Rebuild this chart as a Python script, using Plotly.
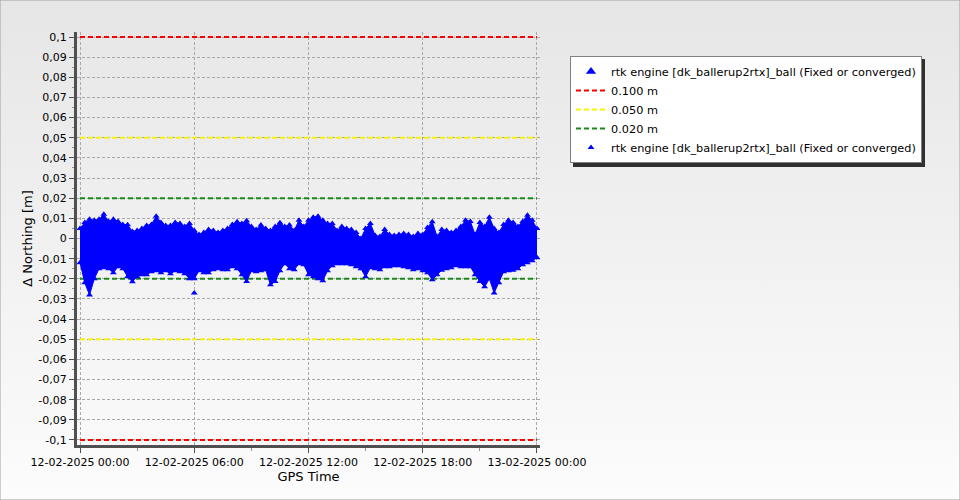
import base64

import pandas as pd
import plotly.graph_objects as go

# Northing deviation, envelope of the dense point cloud, one value every 15 min
START = "2025-02-12 00:00"
STEP = "15min"
upper = [
    0.005, 0.008, 0.0095, 0.009, 0.0095, 0.012, 0.0085, 0.0095, 0.0085, 0.007, 0.0068, 0.0035,
    0.004, 0.005, 0.0065, 0.007, 0.011, 0.008, 0.0065, 0.0065, 0.008, 0.0075, 0.006, 0.0075,
    0.004, 0.002, 0.003, 0.0045, 0.004, 0.003, 0.004, 0.005, 0.007, 0.0083, 0.0075, 0.0088,
    0.006, 0.0045, 0.0067, 0.005, 0.004, 0.006, 0.0078, 0.006, 0.0067, 0.004, 0.009, 0.006,
    0.009, 0.0105, 0.011, 0.009, 0.0075, 0.0075, 0.004, 0.006, 0.005, 0.0045, 0.003, 0.0,
    0.005, 0.0075, 0.0015, 0.001, 0.0045, 0.002, 0.0015, 0.002, 0.0025, 0.002, 0.001, 0.0025,
    0.002, 0.0055, 0.0083, 0.001, 0.0045, 0.004, 0.003, 0.004, 0.006, 0.009, 0.0085, 0.002,
    0.008, 0.006, 0.0105, 0.005, 0.003, 0.007, 0.009, 0.008, 0.006, 0.0085, 0.0115, 0.009,
    0.005,
]
lower = [
    -0.012, -0.022, -0.028, -0.020, -0.015, -0.0145, -0.015, -0.017, -0.014, -0.015, -0.019, -0.0215,
    -0.019, -0.018, -0.018, -0.0165, -0.016, -0.017, -0.016, -0.0175, -0.016, -0.0165, -0.0175, -0.020,
    -0.020, -0.016, -0.017, -0.017, -0.0155, -0.015, -0.0155, -0.0155, -0.014, -0.015, -0.018, -0.0214,
    -0.016, -0.0165, -0.016, -0.0155, -0.023, -0.0214, -0.016, -0.0125, -0.015, -0.0155, -0.0125, -0.013,
    -0.018, -0.019, -0.020, -0.021, -0.016, -0.0135, -0.0125, -0.0125, -0.0125, -0.013, -0.014, -0.015,
    -0.019, -0.0145, -0.015, -0.0155, -0.014, -0.014, -0.0135, -0.0135, -0.014, -0.0145, -0.0155, -0.015,
    -0.016, -0.017, -0.0205, -0.018, -0.0157, -0.015, -0.0145, -0.0135, -0.014, -0.014, -0.014, -0.018,
    -0.0214, -0.024, -0.020, -0.027, -0.022, -0.0165, -0.016, -0.0157, -0.015, -0.013, -0.012, -0.011,
    -0.0095,
]
outlier_times = ["2025-02-12 06:00"]
outlier_values = [-0.027]

SERIES_NAME = "rtk engine [dk_ballerup2rtx]_ball (Fixed or converged)"
limit_names = ["0.100 m", "0.050 m", "0.020 m"]
limit_values = [0.1, 0.05, 0.02]
limit_span = ["2025-02-12 00:00", "2025-02-13 00:00"]

y_ticks = [0.1, 0.09, 0.08, 0.07, 0.06, 0.05, 0.04, 0.03, 0.02, 0.01, 0,
           -0.01, -0.02, -0.03, -0.04, -0.05, -0.06, -0.07, -0.08, -0.09, -0.1]
y_tick_text = ["0,1", "0,09", "0,08", "0,07", "0,06", "0,05", "0,04", "0,03", "0,02", "0,01", "0",
               "-0,01", "-0,02", "-0,03", "-0,04", "-0,05", "-0,06", "-0,07", "-0,08", "-0,09", "-0,1"]

BLUE = "#0000ff"
LIMIT_COLORS = ["#ff0000", "#f5f500", "#1a8a1a"]
GRID = "#a8a8a8"
AXIS = "#505050"
FONT = "DejaVu Sans"

W, H = 960, 500
PLOT = dict(l=77, r=540, t=32, b=445)  # plot area in pixels
LEG = dict(l=570, t=56, r=922, b=164)  # legend box in pixels (for its drop shadow)

t = pd.date_range(START, periods=len(upper), freq=STEP)

fig = go.Figure()

# limit lines (drawn first, the point cloud sits on top)
for name, val, col in zip(limit_names, limit_values, LIMIT_COLORS):
    fig.add_trace(go.Scatter(
        x=[limit_span[0], limit_span[1], None, limit_span[0], limit_span[1]],
        y=[val, val, None, -val, -val],
        mode="lines", name=name, legendrank=2,
        line=dict(color=col, width=2, dash="5px,3px"),
        hoverinfo="skip",
    ))

# the point cloud: band between envelopes + triangle markers on both edges
fig.add_trace(go.Scatter(x=t, y=lower, mode="lines+markers", showlegend=False,
                         line=dict(color=BLUE, width=1),
                         marker=dict(symbol="triangle-up", size=6, color=BLUE)))
fig.add_trace(go.Scatter(x=t, y=upper, mode="lines+markers", showlegend=False,
                         fill="tonexty", fillcolor=BLUE,
                         line=dict(color=BLUE, width=1),
                         marker=dict(symbol="triangle-up", size=6, color=BLUE)))
fig.add_trace(go.Scatter(x=outlier_times, y=outlier_values, mode="markers", showlegend=False,
                         marker=dict(symbol="triangle-up", size=6, color=BLUE)))

# legend entries for the series
fig.add_trace(go.Scatter(x=[None], y=[None], mode="markers", name=SERIES_NAME, legendrank=1,
                         marker=dict(symbol="triangle-up", size=9, color=BLUE)))
fig.add_trace(go.Scatter(x=[None], y=[None], mode="markers", name=SERIES_NAME, legendrank=3,
                         marker=dict(symbol="triangle-up", size=6, color=BLUE)))

svg = (
    f"<svg xmlns='http://www.w3.org/2000/svg' width='{W}' height='{H}' preserveAspectRatio='none'>"
    "<defs><linearGradient id='g' x1='0' y1='0' x2='0' y2='1'>"
    "<stop offset='0' stop-color='#e6e6e6'/><stop offset='1' stop-color='#fcfcfc'/>"
    "</linearGradient></defs>"
    f"<rect width='{W}' height='{H}' fill='url(#g)'/></svg>"
)
bg = "data:image/svg+xml;base64," + base64.b64encode(svg.encode()).decode()

fig.update_layout(
    width=W, height=H,
    margin=dict(l=0, r=0, t=0, b=0),
    paper_bgcolor="#f2f2f2",
    plot_bgcolor="rgba(0,0,0,0)",
    font=dict(family=FONT, size=11, color="#000000"),
    images=[dict(source=bg, xref="paper", yref="paper", x=0, y=1, sizex=1, sizey=1,
                 sizing="stretch", layer="below")],
    legend=dict(x=LEG["l"] / W, y=1 - LEG["t"] / H, xanchor="left", yanchor="top",
                bgcolor="#ffffff", bordercolor="#808080", borderwidth=1,
                font=dict(family=FONT, size=11.3), traceorder="normal"),
    showlegend=True,
    shapes=[
        # legend drop shadow
        dict(type="rect", xref="paper", yref="paper", layer="below",
             x0=(LEG["l"] + 3) / W, x1=(LEG["r"] + 3) / W,
             y0=1 - (LEG["b"] + 3) / H, y1=1 - (LEG["t"] + 3) / H,
             fillcolor="#303030", line=dict(width=0)),
        # outer frame
        dict(type="rect", xref="paper", yref="paper", x0=0, x1=1, y0=0, y1=1,
             line=dict(color="#a0a0a0", width=1)),
    ],
)

fig.update_xaxes(
    domain=[PLOT["l"] / W, PLOT["r"] / W],
    range=["2025-02-11 23:50:30", "2025-02-13 00:09:30"],
    type="date", tickformat="%d-%m-%Y %H:%M", dtick=6 * 3600 * 1000,
    tick0="2025-02-12 00:00",
    showgrid=True, gridcolor=GRID, griddash="3px,2px", gridwidth=1,
    showline=True, linecolor=AXIS, linewidth=3,
    ticks="outside", ticklen=5, tickcolor=AXIS,
    minor=dict(ticks="outside", ticklen=3, dtick=3 * 3600 * 1000, tickcolor="#909090",
               showgrid=False),
    title=dict(text="GPS Time", standoff=0),
    zeroline=False, automargin=False,
)
fig.update_yaxes(
    domain=[1 - PLOT["b"] / H, 1 - PLOT["t"] / H],
    range=[-0.1025, 0.1025],
    tickvals=y_ticks, ticktext=y_tick_text,
    showgrid=True, gridcolor=GRID, griddash="3px,2px", gridwidth=1,
    showline=True, linecolor=AXIS, linewidth=3,
    ticks="outside", ticklen=5, tickcolor=AXIS,
    minor=dict(ticks="outside", ticklen=2, dtick=0.005, tickcolor="#909090", showgrid=False),
    title=dict(text="Δ Northing [m]", standoff=3),
    zeroline=False, automargin=False,
)

fig.write_html("out.html", config={"displayModeBar": False},
               post_script="document.body.style.margin = '0';")
